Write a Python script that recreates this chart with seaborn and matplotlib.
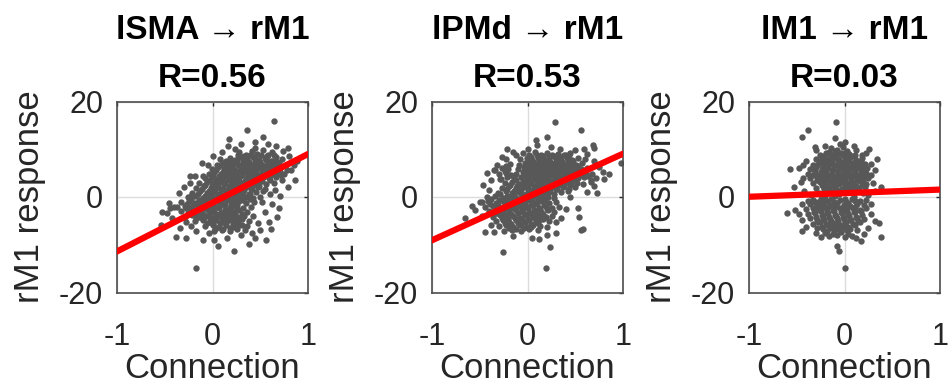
import numpy as np
import pandas as pd
import matplotlib
matplotlib.use("Agg")
import matplotlib.pyplot as plt
import seaborn as sns

# ---------------- data ----------------
panel_titles = ["lSMA \u2192 rM1", "lPMd \u2192 rM1", "lM1 \u2192 rM1"]
r_values = ["0.56", "0.53", "0.03"]
fit_intercept = [-1.2, 0.0, 0.8]
fit_slope = [10.2, 9.06, 0.75]
x_ticks = [-1, 0, 1]
y_ticks = [-20, 0, 20]
x_label = "Connection"
y_label = "rM1 response"

lsma_points = [
    (0.64, 15.9), (0.36, 14.1), (0.17, 12.2), (0.53, 12.5), (0.16, 10.7), (0.79, 10.2), (0.66, 10.6),
    (-0.11, 7.2), (-0.24, 4.5), (-0.18, 4.3), (-0.24, 2.9), (-0.10, 4.3), (0.82, 5.7), (0.72, 4.6),
    (0.71, 0.3), (0.60, 0.6), (-0.23, 0.3), (-0.46, -1.3), (-0.40, -2.0), (-0.53, -3.1), (-0.48, -3.4),
    (-0.54, -5.8), (-0.34, -6.5), (-0.38, -8.4), (-0.28, -8.6), (-0.17, -7.2), (0.06, -10.2), (0.23, -11.4),
    (-0.17, -14.9), (0.15, -8.6), (0.41, -7.6), (0.56, -9.1), (0.61, -6.7), (0.68, -4.1), (0.70, -2.2),
    (0.48, -5.5), (0.59, -5.2), (0.31, -5.9), (-0.04, -7.6), (0.03, -6.6),
    (0.45, 11.5), (0.30, 11.0), (0.10, 9.5), (0.00, 8.6), (-0.05, 6.8), (0.85, 6.8), (0.80, 8.5), (0.74, 9.6),
    (0.86, 3.5), (0.79, 2.0), (0.65, 1.5), (0.62, -1.5), (0.55, -3.2), (0.50, -7.0), (0.45, -8.5), (0.30, -8.0),
    (-0.10, -9.0), (-0.22, -6.0), (-0.42, -4.5), (-0.30, 2.0), (-0.35, 0.8), (0.02, -9.0), (0.38, -9.8),
    (0.58, 11.2), (0.88, 7.6), (0.52, -1.0), (-0.44, -2.4), (-0.28, -5.2),
    (0.28, 9.4), (0.35, 8.9), (0.41, 9.6), (0.47, 9.1), (0.53, 9.8), (0.58, 8.8), (0.44, 10.2), (0.24, 10.0), (0.62, 9.5),
    (0.18, 8.2), (0.24, 7.8), (0.30, 8.4), (0.36, 7.9), (0.42, 8.3), (0.49, 7.7), (0.55, 8.1), (0.61, 7.6),
    (0.67, 8.3), (0.73, 7.9), (0.08, 8.0),
    (0.05, 6.8), (0.11, 7.2), (0.17, 6.9), (0.23, 7.1), (0.29, 6.7), (0.34, 7.3), (0.40, 6.8), (0.46, 7.0),
    (0.52, 6.6), (0.58, 7.2), (0.64, 6.9), (0.70, 7.1), (0.77, 6.7),
    (-0.01, 5.9), (0.06, 6.2), (0.12, 5.8), (0.18, 6.1), (0.24, 5.7), (0.30, 6.0), (0.36, 6.3), (0.41, 5.8),
    (0.47, 6.1), (0.53, 5.7), (0.59, 6.2), (0.65, 5.9), (0.71, 6.1), (0.78, 5.6),
    (-0.04, 4.9), (0.02, 5.2), (0.09, 4.8), (0.15, 5.1), (0.21, 4.7), (0.27, 5.0), (0.33, 5.3), (0.38, 4.8),
    (0.44, 5.1), (0.50, 4.7), (0.56, 5.2), (0.62, 4.9), (0.68, 5.1), (0.75, 4.8),
    (-0.08, 3.9), (-0.01, 4.2), (0.05, 3.8), (0.11, 4.1), (0.17, 3.7), (0.23, 4.0), (0.29, 4.3), (0.35, 3.8),
    (0.41, 4.1), (0.47, 3.7), (0.53, 4.2), (0.59, 3.9), (0.66, 4.1), (0.73, 3.6),
    (-0.14, 2.9), (-0.06, 3.1), (0.01, 2.8), (0.07, 3.2), (0.13, 2.9), (0.19, 3.1), (0.25, 2.7), (0.31, 3.0),
    (0.37, 3.3), (0.43, 2.8), (0.49, 3.1), (0.56, 2.7), (0.64, 3.0),
    (-0.17, 1.9), (-0.09, 2.2), (-0.02, 1.8), (0.05, 2.1), (0.11, 1.7), (0.17, 2.0), (0.23, 2.3), (0.29, 1.8),
    (0.35, 2.1), (0.41, 1.7), (0.48, 2.0), (0.55, 1.6),
    (-0.21, 0.9), (-0.13, 1.2), (-0.06, 0.8), (0.01, 1.1), (0.08, 0.7), (0.14, 1.0), (0.20, 1.3), (0.26, 0.8),
    (0.32, 1.1), (0.39, 0.7), (0.46, 1.0), (0.53, 1.2),
    (-0.26, -0.1), (-0.18, 0.2), (-0.10, -0.2), (-0.03, 0.1), (0.04, -0.3), (0.10, 0.2), (0.16, -0.1),
    (0.22, 0.3), (0.28, -0.2), (0.35, 0.1), (0.42, -0.3), (0.50, 0.0),
    (-0.33, -1.1), (-0.25, -0.8), (-0.18, -1.2), (-0.11, -0.9), (-0.04, -1.3), (0.03, -0.8), (0.09, -1.1),
    (0.15, -0.7), (0.21, -1.2), (0.28, -0.9), (0.35, -1.3), (0.43, -1.0),
    (-0.37, -2.1), (-0.29, -1.8), (-0.22, -2.2), (-0.15, -1.9), (-0.08, -2.3), (-0.01, -1.8), (0.06, -2.1),
    (0.12, -1.7), (0.18, -2.2), (0.25, -1.9), (0.32, -2.3), (0.40, -2.0),
    (-0.33, -3.0), (-0.26, -3.3), (-0.19, -2.9), (-0.12, -3.2), (-0.05, -2.8), (0.02, -3.1), (0.09, -3.4),
    (0.15, -2.9), (0.21, -3.2), (0.28, -2.8), (0.36, -3.1),
    (-0.29, -4.1), (-0.21, -3.8), (-0.14, -4.2), (-0.07, -3.9), (0.00, -4.3), (0.07, -3.8), (0.13, -4.1),
    (0.19, -3.7), (0.26, -4.2), (0.33, -3.9), (0.42, -4.0),
    (-0.18, -5.1), (-0.10, -4.8), (-0.03, -5.2), (0.04, -4.9), (0.11, -5.3), (0.17, -4.8), (0.24, -5.1),
    (0.31, -4.7), (0.38, -5.0),
    (-0.08, -6.1), (0.00, -5.8), (0.07, -6.2), (0.14, -5.9), (0.21, -6.3), (0.28, -5.8), (0.36, -6.0),
    (0.02, -7.1), (0.10, -6.9), (0.18, -7.2), (0.26, -6.8), (0.34, -7.0),
    (0.27, 8.9), (0.33, 8.5), (0.39, 8.7), (0.45, 8.4), (0.51, 8.8), (0.57, 8.5), (0.64, 8.7),
    (0.14, 7.6), (0.20, 7.4), (0.26, 7.7), (0.32, 7.5), (0.38, 7.3), (0.44, 7.6), (0.50, 7.4), (0.56, 7.7),
    (0.62, 7.5), (0.68, 7.3),
    (0.08, 6.6), (0.14, 6.3), (0.20, 6.5), (0.27, 6.7), (0.33, 6.4), (0.38, 6.6), (0.44, 6.3),
    (0.50, 6.5), (0.56, 6.4), (0.62, 6.6), (0.68, 6.3),
    (0.04, 5.6), (0.11, 5.3), (0.17, 5.5), (0.23, 5.7), (0.29, 5.4), (0.35, 5.6), (0.40, 5.3),
    (0.46, 5.5), (0.52, 5.6), (0.58, 5.4), (0.65, 5.6), (0.71, 5.3),
    (0.01, 4.6), (0.07, 4.3), (0.13, 4.5), (0.19, 4.7), (0.25, 4.4), (0.31, 4.6), (0.37, 4.3),
    (0.43, 4.5), (0.49, 4.6), (0.55, 4.4), (0.61, 4.6),
    (-0.03, 3.6), (0.04, 3.3), (0.10, 3.5), (0.16, 3.7), (0.22, 3.4), (0.28, 3.6), (0.34, 3.3),
    (0.40, 3.5), (0.46, 3.6), (0.52, 3.4), (0.60, 3.5),
    (-0.08, 2.6), (-0.01, 2.3), (0.06, 2.5), (0.12, 2.7), (0.18, 2.4), (0.24, 2.6), (0.30, 2.3),
    (0.36, 2.5), (0.42, 2.6), (0.49, 2.4),
    (-0.11, 1.6), (-0.04, 1.3), (0.03, 1.5), (0.09, 1.7), (0.15, 1.4), (0.21, 1.6), (0.27, 1.3),
    (0.33, 1.5), (0.40, 1.6),
    (-0.15, 0.6), (-0.08, 0.3), (-0.01, 0.5), (0.06, 0.7), (0.12, 0.4), (0.18, 0.6), (0.24, 0.3),
    (0.31, 0.5), (0.38, 0.6),
    (-0.22, -0.4), (-0.14, -0.7), (-0.07, -0.5), (0.00, -0.3), (0.06, -0.6), (0.12, -0.4),
    (0.19, -0.7), (0.25, -0.5), (0.32, -0.6), (0.39, -0.4),
    (-0.27, -1.4), (-0.20, -1.7), (-0.13, -1.5), (-0.06, -1.3), (0.01, -1.6), (0.07, -1.4),
    (0.13, -1.7), (0.19, -1.5), (0.26, -1.6),
    (-0.28, -2.4), (-0.21, -2.7), (-0.14, -2.5), (-0.07, -2.3), (0.00, -2.6), (0.07, -2.4),
    (0.13, -2.7), (0.19, -2.5), (0.26, -2.6),
    (-0.24, -3.4), (-0.17, -3.7), (-0.10, -3.5), (-0.03, -3.3), (0.04, -3.6), (0.11, -3.4),
    (0.17, -3.7), (0.24, -3.5), (0.31, -3.6),
    (-0.17, -4.4), (-0.10, -4.7), (-0.03, -4.5), (0.04, -4.3), (0.10, -4.6), (0.16, -4.4),
    (0.22, -4.7), (0.29, -4.5),
    (-0.06, -5.4), (0.01, -5.7), (0.08, -5.5), (0.14, -5.3), (0.21, -5.6), (0.27, -5.4),
    (0.04, -6.4), (0.11, -6.7), (0.18, -6.5), (0.25, -6.3),
]

lpmd_points = [
    (0.29, 15.8), (0.56, 14.1), (0.20, 12.5), (0.09, 12.0), (-0.21, 10.1), (0.00, 10.1), (0.69, 10.9),
    (0.70, 10.3), (0.59, 10.1), (0.34, 10.1), (-0.47, 2.6), (-0.35, 5.6), (-0.29, 3.8), (-0.48, -1.0),
    (-0.55, -2.8), (-0.65, -4.4), (-0.45, -7.3), (-0.35, -7.4), (-0.26, -11.5), (0.19, -14.9), (0.24, -10.4),
    (0.12, -8.8), (0.56, -6.9), (0.58, -6.7), (0.54, -4.2), (0.53, -2.4), (0.30, -5.2), (0.73, 0.9),
    (0.98, 7.1), (0.79, 5.3), (0.66, 3.1), (0.43, 8.7), (0.60, 8.0),
    (0.62, 9.0), (0.70, 7.5), (0.75, 6.2), (0.80, 3.8), (0.70, 2.2), (0.62, 1.0), (0.45, 0.0), (0.40, -2.5),
    (0.35, -4.5), (0.30, -7.5), (0.20, -8.0), (0.05, -8.5), (-0.15, -8.2), (-0.38, -5.8), (-0.48, -4.0),
    (-0.58, -1.8), (-0.40, 1.5), (-0.38, 3.5), (-0.42, 5.0), (-0.15, 9.5), (0.10, 10.8), (0.25, 10.5),
    (-0.12, 8.8), (0.85, 4.8), (0.50, 9.8),
    (-0.05, 9.2), (0.02, 8.8), (0.08, 9.4), (0.14, 8.9), (0.20, 9.3), (0.26, 8.7), (0.32, 9.1), (0.38, 8.8), (0.44, 9.3),
    (-0.08, 7.9), (-0.01, 8.2), (0.05, 7.8), (0.11, 8.1), (0.17, 7.7), (0.23, 8.0), (0.29, 8.3), (0.35, 7.8),
    (0.41, 8.1), (0.47, 7.7), (0.53, 8.2), (-0.27, 8.4), (-0.22, 7.9),
    (-0.09, 6.8), (-0.03, 7.1), (0.03, 6.7), (0.09, 7.0), (0.15, 6.8), (0.21, 7.2), (0.27, 6.9), (0.33, 7.1),
    (0.39, 6.7), (0.45, 7.0), (0.51, 6.8), (0.57, 7.1), (-0.32, 6.6), (-0.18, 6.9),
    (-0.10, 5.9), (-0.04, 6.2), (0.02, 5.8), (0.08, 6.1), (0.14, 5.7), (0.20, 6.0), (0.26, 6.3), (0.32, 5.8),
    (0.38, 6.1), (0.44, 5.7), (0.50, 6.2), (0.56, 5.9), (0.62, 6.1), (-0.34, 5.7), (-0.27, 6.0), (-0.20, 5.8),
    (-0.12, 4.9), (-0.05, 5.2), (0.01, 4.8), (0.07, 5.1), (0.13, 4.7), (0.19, 5.0), (0.25, 5.3), (0.31, 4.8),
    (0.37, 5.1), (0.43, 4.7), (0.49, 5.2), (0.55, 4.9), (0.61, 5.1), (0.68, 4.8), (-0.30, 4.9), (-0.23, 5.1), (-0.17, 4.7),
    (-0.14, 3.9), (-0.07, 4.2), (-0.01, 3.8), (0.05, 4.1), (0.11, 3.7), (0.17, 4.0), (0.23, 4.3), (0.29, 3.8),
    (0.35, 4.1), (0.41, 3.7), (0.47, 4.2), (0.53, 3.9), (0.59, 4.1), (0.66, 3.6), (0.72, 4.0), (-0.28, 3.8), (-0.21, 4.1),
    (-0.24, 2.9), (-0.16, 3.1), (-0.09, 2.8), (-0.02, 3.2), (0.04, 2.9), (0.10, 3.1), (0.16, 2.7), (0.22, 3.0),
    (0.28, 3.3), (0.34, 2.8), (0.40, 3.1), (0.46, 2.7), (0.52, 3.0), (0.58, 2.8),
    (-0.27, 1.9), (-0.19, 2.2), (-0.12, 1.8), (-0.05, 2.1), (0.01, 1.7), (0.07, 2.0), (0.13, 2.3), (0.19, 1.8),
    (0.25, 2.1), (0.31, 1.7), (0.37, 2.0), (0.43, 1.6), (0.50, 2.1),
    (-0.31, 0.9), (-0.23, 1.2), (-0.16, 0.8), (-0.09, 1.1), (-0.02, 0.7), (0.04, 1.0), (0.10, 1.3), (0.16, 0.8),
    (0.22, 1.1), (0.28, 0.7), (0.35, 1.0), (0.42, 1.2),
    (-0.42, -0.1), (-0.34, 0.2), (-0.26, -0.2), (-0.19, 0.1), (-0.12, -0.3), (-0.05, 0.2), (0.02, -0.1),
    (0.08, 0.3), (0.14, -0.2), (0.21, 0.1), (0.28, -0.3),
    (-0.50, -1.1), (-0.41, -0.8), (-0.33, -1.2), (-0.26, -0.9), (-0.19, -1.3), (-0.12, -0.8), (-0.05, -1.1),
    (0.02, -0.7), (0.08, -1.2), (0.15, -0.9), (0.22, -1.3), (0.30, -1.0),
    (-0.44, -2.1), (-0.36, -1.8), (-0.29, -2.2), (-0.22, -1.9), (-0.15, -2.3), (-0.08, -1.8), (-0.01, -2.1),
    (0.06, -1.7), (0.12, -2.2), (0.19, -1.9), (0.26, -2.3), (0.33, -2.0),
    (-0.40, -3.0), (-0.33, -3.3), (-0.26, -2.9), (-0.19, -3.2), (-0.12, -2.8), (-0.05, -3.1), (0.02, -3.4),
    (0.08, -2.9), (0.14, -3.2), (0.21, -2.8), (0.28, -3.1),
    (-0.36, -4.1), (-0.29, -3.8), (-0.22, -4.2), (-0.15, -3.9), (-0.08, -4.3), (-0.01, -3.8), (0.06, -4.1),
    (0.12, -3.7), (0.19, -4.2), (0.26, -3.9),
    (-0.33, -5.1), (-0.26, -4.8), (-0.19, -5.2), (-0.12, -4.9), (-0.05, -5.3), (0.02, -4.8), (0.09, -5.1),
    (0.16, -4.7), (0.23, -5.0),
    (-0.30, -6.1), (-0.22, -5.8), (-0.15, -6.2), (-0.08, -5.9), (-0.01, -6.3), (0.06, -5.8), (0.13, -6.0), (0.20, -6.2),
    (-0.25, -7.1), (-0.16, -6.9), (-0.07, -7.2), (0.02, -6.8), (0.11, -7.0),
    (0.04, 8.4), (0.10, 8.7), (0.16, 8.5), (0.22, 8.3), (0.28, 8.6), (0.34, 8.4), (0.40, 8.7),
    (0.00, 7.6), (0.06, 7.3), (0.12, 7.5), (0.18, 7.7), (0.24, 7.4), (0.30, 7.6), (0.36, 7.3),
    (0.42, 7.5), (0.48, 7.6),
    (-0.01, 6.6), (0.05, 6.3), (0.11, 6.5), (0.17, 6.7), (0.23, 6.4), (0.29, 6.6), (0.35, 6.3),
    (0.41, 6.5), (0.47, 6.6), (0.53, 6.4), (-0.23, 6.5),
    (-0.02, 5.6), (0.04, 5.3), (0.10, 5.5), (0.16, 5.7), (0.22, 5.4), (0.28, 5.6), (0.34, 5.3),
    (0.40, 5.5), (0.46, 5.6), (0.52, 5.4), (0.58, 5.6), (-0.24, 5.5),
    (-0.03, 4.6), (0.03, 4.3), (0.09, 4.5), (0.15, 4.7), (0.21, 4.4), (0.27, 4.6), (0.33, 4.3),
    (0.39, 4.5), (0.45, 4.6), (0.51, 4.4), (0.57, 4.6), (0.63, 4.3), (-0.19, 4.6),
    (-0.12, 3.6), (-0.05, 3.3), (0.02, 3.5), (0.08, 3.7), (0.14, 3.4), (0.20, 3.6), (0.26, 3.3),
    (0.32, 3.5), (0.38, 3.6), (0.44, 3.4), (0.50, 3.6),
    (-0.18, 2.6), (-0.11, 2.3), (-0.04, 2.5), (0.02, 2.7), (0.08, 2.4), (0.14, 2.6), (0.20, 2.3),
    (0.26, 2.5), (0.32, 2.6), (0.38, 2.4), (0.44, 2.6),
    (-0.21, 1.6), (-0.14, 1.3), (-0.07, 1.5), (0.00, 1.7), (0.06, 1.4), (0.12, 1.6), (0.18, 1.3),
    (0.24, 1.5), (0.30, 1.6),
    (-0.29, 0.6), (-0.21, 0.3), (-0.14, 0.5), (-0.07, 0.7), (0.00, 0.4), (0.06, 0.6), (0.12, 0.3),
    (0.18, 0.5),
    (-0.38, -0.4), (-0.30, -0.7), (-0.23, -0.5), (-0.16, -0.3), (-0.09, -0.6), (-0.02, -0.4),
    (0.05, -0.7), (0.11, -0.5), (0.18, -0.6),
    (-0.39, -1.4), (-0.31, -1.7), (-0.24, -1.5), (-0.17, -1.3), (-0.10, -1.6), (-0.03, -1.4),
    (0.04, -1.7), (0.10, -1.5), (0.17, -1.6),
    (-0.34, -2.4), (-0.27, -2.7), (-0.20, -2.5), (-0.13, -2.3), (-0.06, -2.6), (0.01, -2.4),
    (0.07, -2.7), (0.13, -2.5), (0.20, -2.6),
    (-0.31, -3.4), (-0.24, -3.7), (-0.17, -3.5), (-0.10, -3.3), (-0.03, -3.6), (0.04, -3.4),
    (0.10, -3.7), (0.16, -3.5),
    (-0.27, -4.4), (-0.20, -4.7), (-0.13, -4.5), (-0.06, -4.3), (0.01, -4.6), (0.08, -4.4),
    (0.14, -4.7),
    (-0.24, -5.4), (-0.17, -5.7), (-0.10, -5.5), (-0.03, -5.3), (0.04, -5.6), (0.11, -5.4),
    (-0.19, -6.4), (-0.12, -6.7), (-0.04, -6.5), (0.04, -6.3),
]

lm1_points = [
    (-0.09, 15.8), (-0.38, 14.0), (-0.44, 12.5), (-0.31, 10.4), (0.00, 11.6), (-0.10, 12.3), (0.10, 10.7),
    (0.26, 10.0), (0.18, 8.8), (0.34, 7.9), (-0.57, 5.8), (-0.48, 6.1), (-0.43, 6.7), (0.32, 5.6),
    (0.38, 2.1), (-0.53, 2.1), (-0.46, 3.2), (-0.60, -3.3), (-0.52, -2.8), (-0.48, -3.6), (-0.45, -7.2),
    (0.32, -5.1), (0.36, -5.4), (0.38, -8.4), (0.17, -9.3), (-0.25, -8.4), (-0.08, -10.3), (-0.06, -11.4),
    (0.01, -14.9), (0.08, -8.1),
    (-0.05, 11.0), (0.12, 9.8), (0.22, 9.2), (0.28, 7.0), (0.30, 3.0), (0.32, 1.2), (0.28, -1.5), (0.28, -3.5),
    (0.25, -6.5), (0.20, -7.8), (-0.30, -7.6), (-0.40, -6.2), (-0.44, -4.8), (-0.45, -1.5), (-0.42, 1.2),
    (-0.43, 4.0), (-0.40, 7.5), (-0.30, 9.8), (-0.20, 10.6), (0.12, -8.5),
    (-0.20, -0.8), (-0.14, -0.5), (-0.28, -1.1), (0.00, -0.4), (0.04, -1.2), (0.13, -1.1), (0.22, -0.6),
    (-0.38, -0.9), (-0.10, 0.3), (-0.20, 0.2), (0.10, 0.1), (0.25, 0.4), (-0.35, 0.5),
    (-0.14, 10.2), (-0.08, 9.8), (-0.02, 10.4), (0.03, 9.7),
    (-0.26, 8.9), (-0.19, 9.2), (-0.13, 8.8), (-0.07, 9.1), (-0.01, 8.7), (0.05, 9.0), (0.11, 8.8),
    (-0.30, 7.9), (-0.24, 8.2), (-0.18, 7.8), (-0.12, 8.1), (-0.06, 7.7), (0.00, 8.0), (0.06, 8.3), (0.12, 7.8), (0.18, 8.1),
    (-0.33, 6.8), (-0.27, 7.1), (-0.21, 6.7), (-0.15, 7.0), (-0.09, 6.8), (-0.03, 7.2), (0.03, 6.9), (0.09, 7.1),
    (0.15, 6.7), (0.21, 7.0),
    (-0.36, 5.9), (-0.30, 6.2), (-0.24, 5.8), (-0.18, 6.1), (-0.12, 5.7), (-0.06, 6.0), (0.00, 6.3), (0.06, 5.8),
    (0.12, 6.1), (0.18, 5.7), (0.24, 6.0),
    (-0.38, 4.9), (-0.31, 5.2), (-0.25, 4.8), (-0.19, 5.1), (-0.13, 4.7), (-0.07, 5.0), (-0.01, 5.3), (0.05, 4.8),
    (0.11, 5.1), (0.17, 4.7), (0.23, 5.0), (0.28, 4.6),
    (-0.36, 3.9), (-0.29, 4.2), (-0.23, 3.8), (-0.17, 4.1), (-0.11, 3.7), (-0.05, 4.0), (0.01, 4.3), (0.07, 3.8),
    (0.13, 4.1), (0.19, 3.7), (0.25, 4.0),
    (-0.33, 2.9), (-0.26, 3.1), (-0.20, 2.8), (-0.14, 3.2), (-0.08, 2.9), (-0.02, 3.1), (0.04, 2.7), (0.10, 3.0),
    (0.16, 3.3), (0.22, 2.8),
    (-0.30, 1.9), (-0.23, 2.2), (-0.16, 1.8), (-0.10, 2.1), (-0.03, 1.7), (0.03, 2.0), (0.09, 2.3), (0.15, 1.8), (0.21, 2.1),
    (-0.27, 0.9), (-0.13, 1.1), (-0.06, 0.7), (0.05, 1.0), (0.12, 1.2), (0.19, 0.8),
    (-0.33, -0.6), (-0.25, -0.4), (-0.05, -0.7), (0.08, -0.5), (0.16, -0.8),
    (-0.36, -1.5), (-0.29, -1.8), (-0.22, -1.4), (-0.15, -1.7), (-0.08, -1.3), (-0.01, -1.6), (0.06, -1.9),
    (0.13, -1.4), (0.20, -1.7),
    (-0.40, -2.6), (-0.33, -2.3), (-0.26, -2.7), (-0.19, -2.4), (-0.12, -2.8), (-0.05, -2.3), (0.02, -2.6),
    (0.09, -2.2), (0.16, -2.7), (0.23, -2.4),
    (-0.38, -3.6), (-0.31, -3.3), (-0.24, -3.7), (-0.17, -3.4), (-0.10, -3.8), (-0.03, -3.3), (0.04, -3.6),
    (0.11, -3.2), (0.18, -3.7),
    (-0.36, -4.5), (-0.29, -4.8), (-0.22, -4.4), (-0.15, -4.7), (-0.08, -4.3), (-0.01, -4.6), (0.06, -4.9),
    (0.13, -4.4), (0.20, -4.7),
    (-0.33, -5.6), (-0.26, -5.3), (-0.19, -5.7), (-0.12, -5.4), (-0.05, -5.8), (0.02, -5.3), (0.09, -5.6), (0.16, -5.2),
    (-0.29, -6.5), (-0.22, -6.8), (-0.15, -6.4), (-0.08, -6.7), (-0.01, -6.3), (0.06, -6.6), (0.13, -6.9),
    (-0.20, -7.5), (-0.12, -7.8), (-0.04, -7.4), (0.04, -7.7),
    (-0.16, 9.4), (-0.10, 9.6), (-0.04, 9.3), (0.02, 9.5),
    (-0.21, 8.6), (-0.15, 8.3), (-0.09, 8.5), (-0.03, 8.7), (0.03, 8.4), (0.09, 8.6),
    (-0.25, 7.6), (-0.19, 7.3), (-0.13, 7.5), (-0.07, 7.7), (-0.01, 7.4), (0.05, 7.6), (0.11, 7.3),
    (0.17, 7.5),
    (-0.29, 6.6), (-0.23, 6.3), (-0.17, 6.5), (-0.11, 6.7), (-0.05, 6.4), (0.01, 6.6), (0.07, 6.3),
    (0.13, 6.5), (0.19, 6.6),
    (-0.31, 5.6), (-0.25, 5.3), (-0.19, 5.5), (-0.13, 5.7), (-0.07, 5.4), (-0.01, 5.6), (0.05, 5.3),
    (0.11, 5.5), (0.17, 5.6),
    (-0.33, 4.6), (-0.27, 4.3), (-0.21, 4.5), (-0.15, 4.7), (-0.09, 4.4), (-0.03, 4.6), (0.03, 4.3),
    (0.09, 4.5), (0.15, 4.6), (0.21, 4.4),
    (-0.29, 3.6), (-0.23, 3.3), (-0.17, 3.5), (-0.11, 3.7), (-0.05, 3.4), (0.01, 3.6), (0.07, 3.3),
    (0.13, 3.5), (0.19, 3.6),
    (-0.24, 2.6), (-0.18, 2.3), (-0.12, 2.5), (-0.06, 2.7), (0.00, 2.4), (0.06, 2.6), (0.12, 2.3),
    (0.18, 2.5),
    (-0.21, 1.6), (-0.14, 1.3), (-0.08, 1.5), (-0.01, 1.4), (0.06, 1.6), (0.12, 1.4),
    (-0.31, -1.0), (-0.18, -0.9), (-0.11, -1.1), (0.02, -1.0), (0.11, -0.9),
    (-0.31, -2.2), (-0.24, -1.9), (-0.17, -2.1), (-0.10, -2.0), (-0.03, -2.2), (0.04, -1.9),
    (0.11, -2.1),
    (-0.32, -3.2), (-0.25, -2.9), (-0.18, -3.1), (-0.11, -3.0), (-0.04, -3.2), (0.03, -2.9),
    (0.10, -3.1), (0.17, -3.0),
    (-0.30, -4.2), (-0.23, -3.9), (-0.16, -4.1), (-0.09, -4.0), (-0.02, -4.2), (0.05, -3.9),
    (0.12, -4.1),
    (-0.28, -5.2), (-0.21, -4.9), (-0.14, -5.1), (-0.07, -5.0), (0.00, -5.2), (0.07, -4.9),
    (0.14, -5.1),
    (-0.24, -6.2), (-0.17, -5.9), (-0.10, -6.1), (-0.03, -6.0), (0.04, -6.2), (0.11, -5.9),
    (-0.18, -7.2), (-0.11, -6.9), (-0.04, -7.1), (0.03, -7.0),
    (-0.16, -8.2), (-0.08, -8.0), (0.00, -8.3),
]

all_points = [lsma_points, lpmd_points, lm1_points]

# ---------------- styling ----------------
sns.set_theme(style="white")
plt.rcParams["font.family"] = ["Liberation Sans", "DejaVu Sans"]
ink = "#262626"
dot_color = "#585858"
grid_color = "#dcdcdc"

fig = plt.figure(figsize=(9.49, 3.89), dpi=100)
W, H = 949, 389
axes_left_px = [117, 432, 749]
ax_w_px = 191
ax_top_px, ax_bot_px = 101.5, 292.5

for i in range(3):
    left = axes_left_px[i] / W
    bottom = (H - ax_bot_px) / H
    height = (ax_bot_px - ax_top_px) / H
    ax = fig.add_axes([left, bottom, ax_w_px / W, height])

    df = pd.DataFrame(all_points[i], columns=["Connection", "Response"])
    ax.set_axisbelow(True)
    ax.grid(True, color=grid_color, linewidth=1.0)

    sns.scatterplot(data=df, x="Connection", y="Response", ax=ax, color=dot_color,
                    s=21, linewidth=0, alpha=1.0, zorder=2, legend=False)

    ax.set_xlim(x_ticks[0], x_ticks[-1])
    ax.set_ylim(y_ticks[0], y_ticks[-1])
    xl = ax.get_xlim()
    fit_df = pd.DataFrame({"x": list(xl)})
    fit_df["y"] = fit_intercept[i] + fit_slope[i] * fit_df["x"]
    sns.lineplot(data=fit_df, x="x", y="y", ax=ax, color="#ff0000", linewidth=4.5,
                 zorder=3, legend=False)
    ax.set_xlim(x_ticks[0], x_ticks[-1])
    ax.set_ylim(y_ticks[0], y_ticks[-1])

    ax.set_xticks(x_ticks)
    ax.set_yticks(y_ticks)
    ax.set_xticklabels([str(t) for t in x_ticks])
    ax.set_yticklabels([str(t) for t in y_ticks])
    ax.tick_params(axis="both", direction="in", length=3, width=1, color=ink,
                   labelcolor=ink, labelsize=22, top=True, right=True)
    ax.tick_params(axis="x", pad=21)
    ax.tick_params(axis="y", pad=10)
    for sp in ax.spines.values():
        sp.set_visible(True)
        sp.set_color("#4d4d4d")
        sp.set_linewidth(1.2)

    ax.set_xlabel(x_label, fontsize=25, color=ink, labelpad=0)
    ax.set_ylabel(y_label, fontsize=25, color=ink, labelpad=9)
    ax.set_title(f"{panel_titles[i]}\nR={r_values[i]}", fontsize=24, fontweight="bold",
                 color="black", pad=10.5, linespacing=1.69)

fig.savefig("out.png", dpi=100)
